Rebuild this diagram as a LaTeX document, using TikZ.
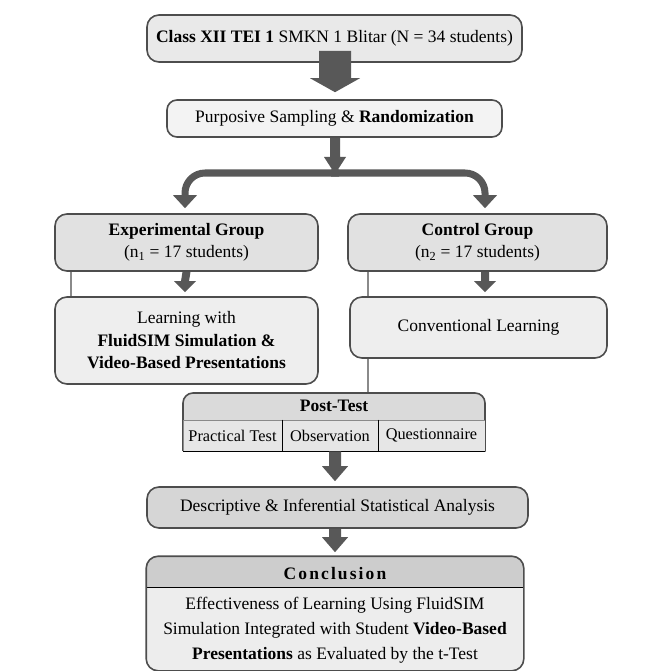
\documentclass[tikz,border=0pt]{standalone}
\usepackage{fontspec}
\setmainfont{Liberation Serif}
\usetikzlibrary{arrows.meta,calc}
\definecolor{edge}{HTML}{4D4D4D}
\definecolor{thin}{HTML}{8A8A8A}
\definecolor{arr}{HTML}{585858}
\definecolor{fA}{HTML}{E9E9E9}
\definecolor{fB}{HTML}{F3F3F3}
\definecolor{fC}{HTML}{E1E1E1}
\definecolor{fD}{HTML}{EEEEEE}
\definecolor{fH}{HTML}{DADADA}
\definecolor{fE}{HTML}{E6E6E6}
\definecolor{fS}{HTML}{D6D6D6}
\definecolor{fK}{HTML}{CDCDCD}
\definecolor{fL}{HTML}{EDEDED}
\tikzset{
  box/.style={draw=edge, line width=1.6pt, rounded corners=12pt, inner sep=0pt, align=center, font=\fontsize{17.5}{22.5}\selectfont},
  cell/.style={draw=thin, line width=0.8pt, fill=fE, inner sep=0pt, font=\fontsize{16.3}{18}\selectfont},
  thinline/.style={draw=thin, line width=1.6pt},
  branch/.style={draw=arr, line width=7pt, rounded corners=20pt},
}
% vertical block arrow from coordinate #1 (top) to tip #2; half shaft #3, half head #4, head length #5
\newcommand\vblockarrow[5]{%
  \fill[arr] ($(#1)+(-#3,0)$) -- ($(#2)+(-#3,-#5)$) -- ($(#2)+(-#4,-#5)$) -- (#2)
    -- ($(#2)+(#4,-#5)$) -- ($(#2)+(#3,-#5)$) -- ($(#1)+(#3,0)$) -- cycle;}
\begin{document}
\begin{tikzpicture}[x=1pt,y=-1pt]
\useasboundingbox[fill=white] (0,0) rectangle (661,671);

% boxes
\node[box, fill=fA, minimum width=375pt, minimum height=47pt] (top) at (334.5,38.5)
  {\textbf{Class XII TEI 1} SMKN 1 Blitar (N = 34 students)};
\node[box, fill=fB, minimum width=335pt, minimum height=37pt, rounded corners=10pt] (purp) at (334.5,118.5)
  {Purposive Sampling \& \textbf{Randomization}};
\node[box, fill=fC, minimum width=263pt, minimum height=57pt] (exp) at (186.5,242.5)
  {\textbf{Experimental Group}\\(n\textsubscript{1} = 17 students)};
\node[box, fill=fC, minimum width=259pt, minimum height=57pt] (ctrl) at (477.5,242.5)
  {\textbf{Control Group}\\(n\textsubscript{2} = 17 students)};
\node[box, fill=fD, minimum width=263pt, minimum height=87pt] (learn) at (186.5,340.5)
  {Learning with\\\textbf{FluidSIM Simulation \&}\\\textbf{Video-Based Presentations}};
\node[box, fill=fD, minimum width=257pt, minimum height=61pt] (conv) at (478.5,327.5)
  {Conventional Learning};

% post-test
\node[box, fill=fH, minimum width=302pt, minimum height=38pt, rounded corners=10pt] (post) at (334,412)
  {};
\node[font=\fontsize{17.5}{20}\selectfont\bfseries, inner sep=0pt] (postT) at (334,406) {Post-Test};
\node[cell, minimum width=99pt, minimum height=31pt] (pt1) at (232.5,435.5) {Practical Test};
\node[cell, minimum width=96pt, minimum height=31pt] (pt2) at (330,435.5) {Observation};
\node[cell, minimum width=107pt, minimum height=31pt] (pt3) at (431.5,435.5) {Questionnaire};
\draw[edge, line width=1.6pt] (pt1.north west) -- (pt1.south west);
\draw[thin, line width=1.2pt] (pt1.south west) -- (pt3.south east);
\draw[edge, line width=1.6pt] (pt3.south east) -- (pt3.north east);
\draw[black, line width=1.8pt] (pt1.north east) -- (pt1.south east);
\draw[black, line width=1.8pt] (pt2.north east) -- (pt2.south east);

\node[box, fill=fS, minimum width=381pt, minimum height=41pt] (desc) at (337.5,507.5)
  {Descriptive \& Inferential Statistical Analysis};

% conclusion
\node[box, draw=none, fill=fL, minimum width=376pt, minimum height=113pt] (concl) at (335,613.5) {};
\begin{scope}
  \clip[rounded corners=12pt] (concl.north west) rectangle (concl.south east);
  \fill[fK] (concl.north west) rectangle ($(concl.north east)+(0,31)$);
  \draw[thin, line width=0.8pt] ($(concl.north west)+(0,31)$) -- ($(concl.north east)+(0,31)$);
\end{scope}
\draw[edge, line width=1.6pt, rounded corners=12pt] (concl.north west) rectangle (concl.south east);
\node[font=\fontsize{17.5}{20}\selectfont\bfseries\addfontfeatures{LetterSpace=12}, inner sep=0pt] (conclH) at ($(concl.north)+(0,17)$) {Conclusion};
\node[align=center, inner sep=0pt, font=\fontsize{17.5}{25}\selectfont] (conclB) at ($(concl.north)+(0,74)$)
  {Effectiveness of Learning Using FluidSIM\\Simulation Integrated with Student \textbf{Video-Based}\\\textbf{Presentations} as Evaluated by the t-Test};

% thin connectors
\draw[thinline] ([xshift=17pt]exp.south west) -- ([xshift=17pt]learn.north west);
\coordinate (rl) at (368,0);
\draw[thinline] (ctrl.south -| rl) -- (conv.north -| rl);
\draw[thinline] (conv.south -| rl) -- (post.north -| rl);

% block arrows
\coordinate (bM) at (335,173);
\coordinate (a1s) at ([yshift=12pt]top.south -| bM);
\coordinate (a1e) at ([yshift=7pt]purp.north -| bM);
\vblockarrow{a1s}{a1e}{16}{25}{14}
\coordinate (a2s) at (purp.south -| bM);
\coordinate (a2e) at ([yshift=-1pt]bM);
\vblockarrow{a2s}{a2e}{5}{11}{17}
% branch
\coordinate (eL) at ([yshift=5pt,xshift=-1.5pt]exp.north);
\coordinate (eR) at ([yshift=5pt,xshift=7.5pt]ctrl.north);
\draw[branch] ([xshift=4pt]bM) -| ($(eL)+(0,-12)$);
\draw[branch] ([xshift=-4pt]bM) -| ($(eR)+(0,-12)$);
\fill[arr] (eL) -- ++(-12,-13) -- ++(24,0) -- cycle;
\fill[arr] (eR) -- ++(-12,-13) -- ++(24,0) -- cycle;
% small arrows
\coordinate (a3s) at (exp.south);
\coordinate (a3e) at ([yshift=4pt,xshift=-1.5pt]learn.north);
\vblockarrow{a3s}{a3e}{4}{11}{11}
\coordinate (a4s) at ([xshift=7.5pt]ctrl.south);
\coordinate (a4e) at ([yshift=4pt,xshift=6.5pt]conv.north);
\vblockarrow{a4s}{a4e}{4}{11}{11}
\coordinate (a5s) at (pt2.south -| bM);
\coordinate (a5e) at ([yshift=5pt]desc.north -| bM);
\vblockarrow{a5s}{a5e}{6}{13}{15}
\coordinate (a6s) at (desc.south -| bM);
\coordinate (a6e) at ([yshift=4pt]concl.north -| bM);
\vblockarrow{a6s}{a6e}{6}{13}{15}
\end{tikzpicture}
\end{document}
